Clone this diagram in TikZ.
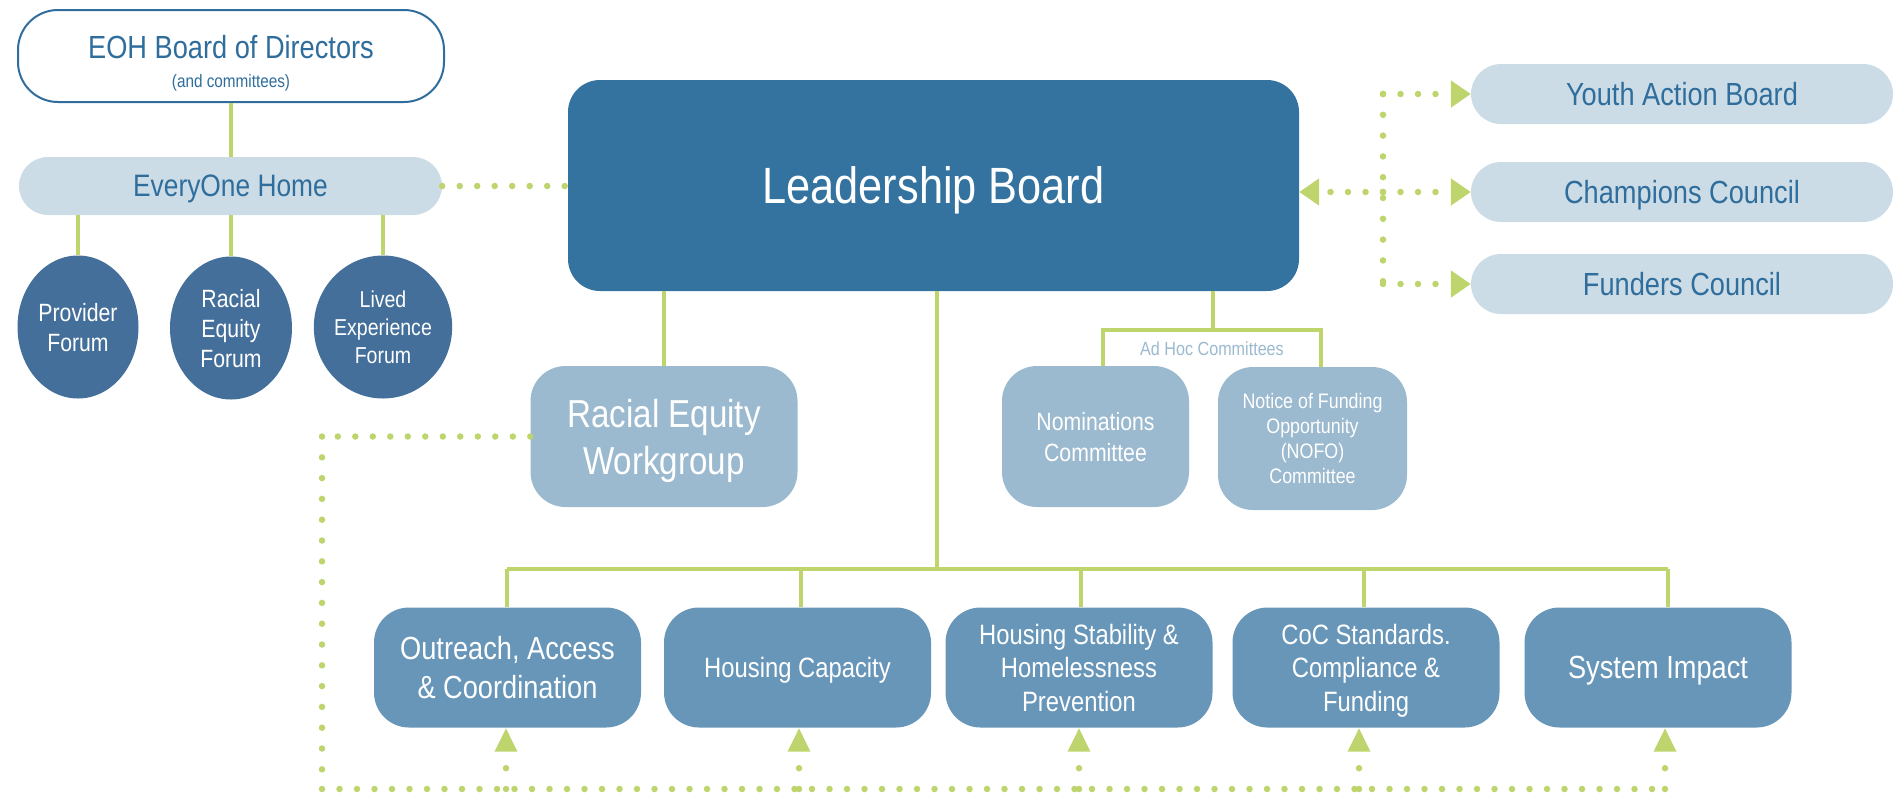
\documentclass[tikz,border=0pt]{standalone}
\usepackage{fontspec}
\setmainfont{Liberation Sans}[FakeStretch=0.85]
\usetikzlibrary{arrows.meta,shapes.geometric}

\definecolor{leadblue}{HTML}{34729F}
\definecolor{forumblue}{HTML}{436F9A}
\definecolor{midblue}{HTML}{6796B9}
\definecolor{softblue}{HTML}{9BB9CF}
\definecolor{paleblue}{HTML}{CCDCE6}
\definecolor{inkblue}{HTML}{2F6E9C}
\definecolor{linkgreen}{HTML}{BDD56C}

\newcommand\fsz[2]{\fontsize{#1}{#2}\selectfont}

\tikzset{
  box/.style={rounded corners=#1, inner sep=0pt, align=center, text depth=0pt},
  forum/.style={ellipse, fill=forumblue, inner sep=0pt, minimum width=121pt, minimum height=143pt,
                text=white, align=center, text depth=0pt},
  link/.style={draw=linkgreen, line width=3.2pt},
  doth/.style={draw=linkgreen, line width=6.5pt, line cap=round, dash pattern=on 0pt off 17.5pt},
  dotv/.style={draw=linkgreen, line width=6.5pt, line cap=round, dash pattern=on 0pt off 20.8pt},
  uptip/.style={-{Triangle[width=21pt,length=24pt]}},
  sidetip/.style={-{Triangle[width=26pt,length=20pt]}},
}

\begin{document}
\begin{tikzpicture}[x=1pt,y=-1pt]
\useasboundingbox (0,0) rectangle (1895,796);

% ---- EveryOne Home column ----
\node[box=40pt, draw=inkblue, line width=2pt, fill=white,
      minimum width=426pt, minimum height=92pt] (eoh) at (231,56) {};
\node[anchor=base, text=inkblue, font=\fsz{32}{36}] (eohtitle) at (231,58) {EOH Board of Directors};
\node[anchor=base, text=inkblue, font=\fsz{18}{20}] (eohsub) at (231,87) {(and committees)};

\node[box=29pt, fill=paleblue, minimum width=423pt, minimum height=58pt,
      text=inkblue, font=\fsz{31}{36}] (home) at (230.5,186) {EveryOne Home};

\node[forum, font=\fsz{25}{30}] (prov) at (78,327) {Provider\\Forum};
\node[forum, minimum width=122pt, font=\fsz{25}{30}] (ref) at (231,328) {Racial\\Equity\\Forum};
\node[forum, font=\fsz{23}{28}] (lef) at (383,327) {Lived\\Experience\\Forum};

\draw[link] (eoh.south) -- (eoh.south |- home.north);
\draw[link] (prov.north |- home.south) -- (prov.north);
\draw[link] (ref.north |- home.south) -- (ref.north);
\draw[link] (lef.north |- home.south) -- (lef.north);

% ---- Leadership Board ----
\node[box=32pt, fill=leadblue, minimum width=731pt, minimum height=211pt,
      text=white, font=\fsz{51}{56}] (lead) at (933.5,185.5) {Leadership Board};

\draw[doth] (home.east) -- (lead.west |- home.east);

% ---- Advisory bodies on the right ----
\node[box=30pt, fill=paleblue, minimum width=422pt, minimum height=60pt,
      text=inkblue, font=\fsz{32}{36}] (youth) at (1682,94) {Youth Action Board};
\node[box=30pt, fill=paleblue, minimum width=422pt, minimum height=60pt,
      text=inkblue, font=\fsz{32}{36}] (champ) at (1682,192) {Champions Council};
\node[box=30pt, fill=paleblue, minimum width=422pt, minimum height=60pt,
      text=inkblue, font=\fsz{32}{36}] (fund) at (1682,284) {Funders Council};

\coordinate (sp1) at (1383,94);
\coordinate (sp2) at (1383,192);
\coordinate (sp3) at (1383,284);
\draw[dotv] (sp1) -- (sp3);
\draw[doth, sidetip] (sp1) -- (youth.west);
\draw[doth, sidetip] (sp2) -- (champ.west);
\draw[doth, sidetip] (sp3) -- (fund.west);
\draw[doth, sidetip] (sp2) -- (lead.east |- sp2);

% ---- Workgroup and ad hoc committees ----
\node[box=35pt, fill=softblue, minimum width=267pt, minimum height=141pt,
      text=white, font=\fsz{39}{47}] (rew) at (664,436.5) {Racial Equity\\Workgroup};
\draw[link] (rew.north |- lead.south) -- (rew.north);

\node[box=35pt, fill=softblue, minimum width=187pt, minimum height=141pt,
      text=white, font=\fsz{25}{31}] (nom) at (1095.5,436.5) {Nominations\\Committee};
\node[box=35pt, fill=softblue, minimum width=189pt, minimum height=143pt,
      text=white, font=\fsz{21}{25}] (nofo) at (1312.5,438.5) {Notice of Funding\\Opportunity\\(NOFO)\\Committee};

\coordinate (adhoc) at (1213,330);
\coordinate (adl) at (1103,330);
\coordinate (adr) at (1321,330);
\draw[link] (adhoc |- lead.south) -- (adhoc);
\draw[link] (adl |- nom.north) -- (adl) -- (adr) -- (adr |- nofo.north);
\node[anchor=base, text=softblue, font=\fsz{19}{22}] (adhoclabel) at (1212,355) {Ad Hoc Committees};

% ---- Standing committees ----
\tikzset{stand/.style={box=35pt, fill=midblue, minimum width=267pt, minimum height=120pt, text=white}}
\node[stand, font=\fsz{32}{39}] (oac) at (507.5,667.5) {Outreach, Access\\\& Coordination};
\node[stand, font=\fsz{28}{33}] (hcap) at (797.5,667.5) {Housing Capacity};
\node[stand, font=\fsz{28}{33.5}] (hsp) at (1079,667.5) {Housing Stability \&\\Homelessness\\Prevention};
\node[stand, font=\fsz{28}{33.5}] (coc) at (1366,667.5) {CoC Standards.\\Compliance \&\\Funding};
\node[stand, font=\fsz{32}{39}] (sim) at (1658,667.5) {System Impact};

\coordinate (bus) at (937,569);
\coordinate (d1) at (507,569);
\coordinate (d2) at (801,569);
\coordinate (d3) at (1081,569);
\coordinate (d4) at (1364,569);
\coordinate (d5) at (1668,569);
\draw[link] (bus |- lead.south) -- (bus);
\draw[link] (d1) -- (d5);
\draw[link] (d1) -- (d1 |- oac.north);
\draw[link] (d2) -- (d2 |- hcap.north);
\draw[link] (d3) -- (d3 |- hsp.north);
\draw[link] (d4) -- (d4 |- coc.north);
\draw[link] (d5) -- (d5 |- sim.north);

% ---- Racial equity feedback loop ----
\coordinate (lc1) at (322,436.5);
\coordinate (lc2) at (322,789);
\coordinate (lc3) at (1668,789);
\draw[doth] (rew.west) -- (lc1);
\draw[dotv] (lc1) -- (lc2);
\draw[doth] (lc2) -- (lc3);

\coordinate (a1) at (506,789);
\coordinate (a2) at (799,789);
\coordinate (a3) at (1079,789);
\coordinate (a4) at (1359,789);
\coordinate (a5) at (1665,789);
\draw[dotv, uptip] (a1) -- (a1 |- oac.south);
\draw[dotv, uptip] (a2) -- (a2 |- hcap.south);
\draw[dotv, uptip] (a3) -- (a3 |- hsp.south);
\draw[dotv, uptip] (a4) -- (a4 |- coc.south);
\draw[dotv, uptip] (a5) -- (a5 |- sim.south);
\end{tikzpicture}
\end{document}
